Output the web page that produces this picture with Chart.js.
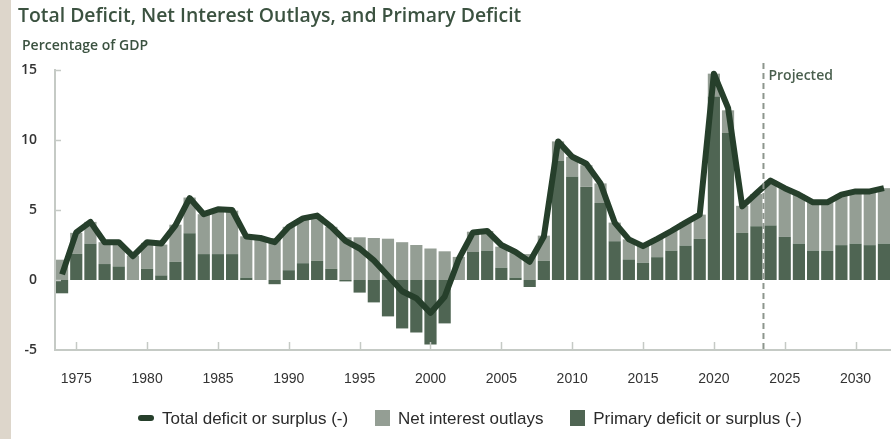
<!DOCTYPE html>
<html>
<head>
<meta charset="utf-8">
<script src="https://cdn.jsdelivr.net/npm/chart.js@4.4.1/dist/chart.umd.min.js"></script>
<style>
  html, body { margin: 0; padding: 0; background: #fff; overflow: hidden; }
  #wrap { position: relative; width: 891px; height: 439px; overflow: hidden; }
  #band { position: absolute; left: 0; top: 0; width: 11px; height: 439px; background: #ddd6cb; }
  #titulo { position: absolute; left: 18px; top: 1px; font: 600 19.4px "Open Sans", sans-serif; color: #3b5240; white-space: nowrap; }
  #subtitulo { position: absolute; left: 22px; top: 35px; font: 600 14px "Open Sans", sans-serif; color: #3b5240; }
  #grafica { position: absolute; left: 0; top: 0; }
  #leyenda { position: absolute; left: 0; width: 940px; top: 408px; text-align: center; font: 17px "Liberation Sans Narrow", "Arial Narrow", sans-serif; color: #2b2b2b; white-space: nowrap; }
  #leyenda span.item { display: inline-block; margin: 0 11px; vertical-align: middle; }
  .caja { display: inline-block; width: 15px; height: 16px; vertical-align: -2px; margin-right: 8px; }
  .raya { display: inline-block; width: 16px; height: 6px; border-radius: 3px; vertical-align: 3px; margin-right: 8px; background: #263f2b; }
</style>
</head>
<body>
<div id="wrap">
  <div id="band"></div>
  <canvas id="grafica" width="891" height="439"></canvas>
  <div id="titulo">Total Deficit, Net Interest Outlays, and Primary Deficit</div>
  <div id="subtitulo">Percentage of GDP</div>
  <div id="leyenda">
    <span class="item"><span class="raya"></span>Total deficit or surplus (-)</span>
    <span class="item"><span class="caja" style="background:#949e94"></span>Net interest outlays</span>
    <span class="item"><span class="caja" style="background:#4f6553"></span>Primary deficit or surplus (-)</span>
  </div>
</div>
<script>
const anios = [];
for (let a = 1974; a <= 2032; a++) anios.push(String(a));

// porcentaje del PIB
const deficitPrimario = [
  -0.95, 1.87, 2.6, 1.14, 0.97, 0.0, 0.8, 0.33, 1.3, 3.34,
  1.85, 1.85, 1.85, 0.17, 0.0, -0.3, 0.7, 1.2, 1.37, 0.8,
  -0.1, -0.9, -1.6, -2.6, -3.46, -3.75, -4.6, -3.1, 0.0, 2.0,
  2.1, 0.88, 0.17, -0.5, 1.37, 8.5, 7.4, 6.65, 5.5, 2.77,
  1.47, 1.23, 1.63, 2.1, 2.46, 2.94, 13.1, 10.5, 3.36, 3.84,
  3.9, 3.08, 2.6, 2.1, 2.1, 2.49, 2.6, 2.49, 2.6
];
const interesesNetos = [
  1.45, 1.5, 1.55, 1.56, 1.6, 1.75, 1.85, 2.2, 2.65, 2.55,
  2.85, 3.15, 3.1, 2.95, 2.95, 3.0, 3.1, 3.2, 3.2, 3.0,
  3.05, 3.05, 3.0, 2.95, 2.7, 2.5, 2.25, 2.05, 1.65, 1.45,
  1.4, 1.5, 1.75, 1.85, 1.8, 1.4, 1.4, 1.55, 1.4, 1.33,
  1.43, 1.2, 1.31, 1.4, 1.64, 1.73, 1.64, 1.62, 1.94, 2.3,
  3.2, 3.48, 3.5, 3.45, 3.45, 3.6, 3.73, 3.84, 3.96
];
const deficitTotal = [
  0.4, 3.4, 4.15, 2.7, 2.7, 1.7, 2.7, 2.6, 3.9, 5.85,
  4.7, 5.05, 5.0, 3.1, 3.0, 2.7, 3.8, 4.4, 4.6, 3.8,
  2.8, 2.25, 1.4, 0.3, -0.8, -1.3, -2.35, -1.2, 1.5, 3.4,
  3.5, 2.5, 2.0, 1.3, 3.1, 9.9, 8.8, 8.3, 6.9, 4.1,
  2.9, 2.42, 2.94, 3.5, 4.1, 4.67, 14.74, 12.3, 5.26, 6.2,
  7.1, 6.56, 6.1, 5.55, 5.55, 6.1, 6.33, 6.33, 6.56
];
const ticksY = [-5, 0, 5, 10, 15];
const inicioProyeccion = '2024';

const colorEje = '#c5cac5';

// marcas hacia adentro y la linea de "Projected"
const marcasPlugin = {
  id: 'marcas',
  afterDatasetsDraw(chart) {
    const ctx = chart.ctx;
    const x = chart.scales.x, y = chart.scales.y;
    const area = chart.chartArea;
    ctx.save();
    ctx.strokeStyle = colorEje;
    ctx.lineWidth = 1.5;
    ticksY.forEach(v => {
      if (v === -5) return;
      const py = Math.round(y.getPixelForValue(v)) + 0.5;
      ctx.beginPath();
      ctx.moveTo(area.left, py);
      ctx.lineTo(area.left + 6, py);
      ctx.stroke();
    });
    anios.forEach((a, i) => {
      if (Number(a) % 5 !== 0) return;
      const px = Math.round(x.getPixelForValue(i)) + 0.5;
      ctx.beginPath();
      ctx.moveTo(px, area.bottom);
      ctx.lineTo(px, area.bottom - 8);
      ctx.stroke();
    });
    const idx = anios.indexOf(inicioProyeccion);
    const px = (x.getPixelForValue(idx - 1) + x.getPixelForValue(idx)) / 2;
    ctx.strokeStyle = '#8d968d';
    ctx.lineWidth = 2;
    ctx.setLineDash([6, 4]);
    ctx.beginPath();
    ctx.moveTo(px, 63);
    ctx.lineTo(px, area.bottom);
    ctx.stroke();
    ctx.setLineDash([]);
    ctx.fillStyle = '#4a5f4e';
    ctx.font = '600 14px "Open Sans", sans-serif';
    ctx.textBaseline = 'middle';
    ctx.fillText('Projected', px + 5, 76);
    ctx.restore();
  }
};

const grafica = new Chart(document.getElementById('grafica').getContext('2d'), {
  type: 'bar',
  data: {
    labels: anios,
    datasets: [
      {
        type: 'line',
        label: 'Total deficit or surplus (-)',
        data: deficitTotal,
        borderColor: '#263f2b',
        borderWidth: 6,
        pointRadius: 0,
        tension: 0,
        borderJoinStyle: 'round',
        order: 0
      },
      {
        label: 'Primary deficit or surplus (-)',
        data: deficitPrimario,
        backgroundColor: '#4f6553',
        barPercentage: 0.86,
        categoryPercentage: 1,
        order: 1
      },
      {
        label: 'Net interest outlays',
        data: interesesNetos,
        backgroundColor: '#949e94',
        barPercentage: 0.86,
        categoryPercentage: 1,
        order: 1
      }
    ]
  },
  options: {
    responsive: false,
    animation: false,
    layout: { autoPadding: false, padding: { top: 70, bottom: 49, left: 0, right: 0 } },
    plugins: { legend: { display: false }, tooltip: { enabled: false } },
    scales: {
      x: {
        stacked: true,
        grid: { display: false, drawTicks: false },
        border: { color: colorEje, width: 2 },
        ticks: {
          autoSkip: false,
          maxRotation: 0,
          padding: 21,
          color: '#333',
          font: { family: '"Liberation Sans Narrow", "Arial Narrow", sans-serif', size: 14 },
          callback: function (v, i) { return Number(anios[i]) % 5 === 0 ? anios[i] : ''; }
        },
        afterFit: s => { s.height = 40; s.paddingRight = 0; s.paddingLeft = 0; }
      },
      y: {
        stacked: true,
        min: -5,
        max: 15,
        afterBuildTicks: s => { s.ticks = ticksY.map(v => ({ value: v })); },
        grid: { display: false, drawTicks: false },
        border: { color: colorEje, width: 2 },
        ticks: {
          padding: 18,
          color: '#333',
          font: { family: '"Open Sans", sans-serif', size: 14, weight: '600' }
        },
        afterFit: s => { s.width = 55; }
      }
    }
  },
  plugins: [marcasPlugin]
});
</script>
</body>
</html>
